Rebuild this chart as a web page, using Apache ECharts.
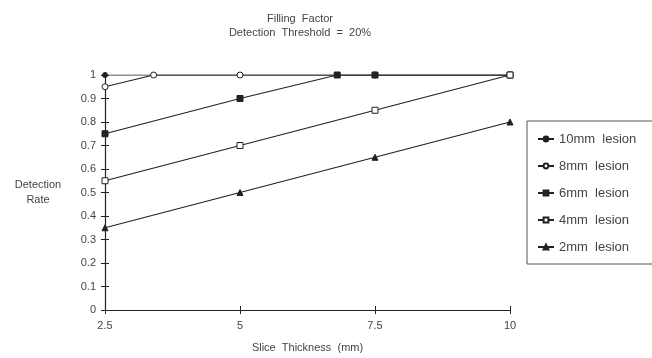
<!DOCTYPE html>
<html>
<head>
<meta charset="utf-8">
<script src="https://cdn.jsdelivr.net/npm/echarts@6/dist/echarts.min.js"></script>
<style>html,body{margin:0;padding:0;background:#fff}#c{width:652px;height:358px}</style>
</head>
<body>
<div id="c"></div>
<script>
var seriesNames = ['10mm  lesion', '8mm  lesion', '6mm  lesion', '4mm  lesion', '2mm  lesion'];
var x10 = [2.5, 5, 7.5, 10];
var y10 = [1, 1, 1, 1];
var x8 = [2.5, 3.4, 5, 7.5, 10];
var y8 = [0.95, 1, 1, 1, 1];
var x6 = [2.5, 5, 6.8, 7.5, 10];
var y6 = [0.75, 0.9, 1, 1, 1];
var x4 = [2.5, 5, 7.5, 10];
var y4 = [0.55, 0.7, 0.85, 1];
var x2 = [2.5, 5, 7.5, 10];
var y2 = [0.35, 0.5, 0.65, 0.8];
var xTicks = [2.5, 5, 7.5, 10];
var yTickLabels = ['0', '0.1', '0.2', '0.3', '0.4', '0.5', '0.6', '0.7', '0.8', '0.9', '1'];

function pairs(xs, ys) { return xs.map(function (x, i) { return [x, ys[i]]; }); }

var ink = '#222';
var txt = '#444';
var font = 'Liberation Sans';

function mk(name, xs, ys, symbol, size, fill) {
  return {
    name: name, type: 'line', data: pairs(xs, ys),
    symbol: symbol, symbolSize: size,
    lineStyle: { color: ink, width: 1.2 },
    itemStyle: { color: fill, borderColor: ink, borderWidth: 1 },
    emphasis: { disabled: true },
    animation: false
  };
}

var chart = echarts.init(document.getElementById('c'));
chart.setOption({
  backgroundColor: '#fff',
  textStyle: { fontFamily: font },
  title: {
    text: 'Filling  Factor',
    subtext: 'Detection  Threshold  =  20%',
    left: 295, top: 8, textAlign: 'center', itemGap: 3,
    textStyle: { fontSize: 11, fontWeight: 'normal', color: txt, fontFamily: font },
    subtextStyle: { fontSize: 11, color: txt, fontFamily: font }
  },
  grid: { left: 105, right: 142, top: 75, bottom: 47 },
  legend: {
    orient: 'vertical', left: 527, top: 121,
    padding: [11, 40, 10, 10], itemGap: 13,
    itemWidth: 16, itemHeight: 6,
    borderColor: '#555', borderWidth: 1,
    textStyle: { fontSize: 13, color: txt, fontFamily: font, lineHeight: 14 },
    data: seriesNames
  },
  xAxis: [{
    type: 'value', min: 2.5, max: 10, interval: 2.5,
    name: 'Slice  Thickness  (mm)', nameLocation: 'middle', nameGap: 32,
    nameTextStyle: { fontSize: 11, color: txt },
    axisLine: { lineStyle: { color: ink, width: 1.2 } },
    axisTick: { length: 4, lineStyle: { color: ink } },
    axisLabel: { fontSize: 11, color: txt, margin: 10, showMinLabel: true, showMaxLabel: true },
    splitLine: { show: false }
  }, {
    type: 'value', min: 2.5, max: 10, interval: 2.5, position: 'bottom',
    axisLine: { show: false },
    axisTick: { inside: true, length: 4, lineStyle: { color: ink } },
    axisLabel: { show: false }, splitLine: { show: false }
  }],
  yAxis: [{
    type: 'value', min: 0, max: 1, interval: 0.1,
    name: 'Detection\nRate', nameLocation: 'middle', nameGap: 67, nameRotate: 0,
    nameTextStyle: { fontSize: 11, color: txt, align: 'center', lineHeight: 15 },
    axisLine: { show: true, lineStyle: { color: ink, width: 1.2 } },
    axisTick: { show: true, length: 4, lineStyle: { color: ink } },
    axisLabel: { fontSize: 11, color: txt, margin: 9, formatter: function (v) { return yTickLabels[Math.round(v * 10)]; } },
    splitLine: { show: false }
  }, {
    type: 'value', min: 0, max: 1, interval: 0.1, position: 'left',
    axisLine: { show: false },
    axisTick: { show: true, inside: true, length: 4, lineStyle: { color: ink } },
    axisLabel: { show: false }, splitLine: { show: false }
  }],
  series: [
    mk(seriesNames[0], x10, y10, 'circle', 5, ink),
    mk(seriesNames[1], x8, y8, 'circle', 6, '#fff'),
    mk(seriesNames[2], x6, y6, 'rect', 6, ink),
    mk(seriesNames[3], x4, y4, 'rect', 6, '#fff'),
    mk(seriesNames[4], x2, y2, 'triangle', 6, ink)
  ]
});
</script>
</body>
</html>
